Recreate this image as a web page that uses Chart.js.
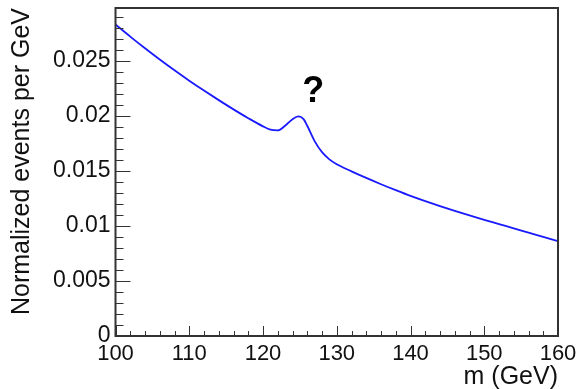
<!DOCTYPE html>
<html>
<head>
<meta charset="utf-8">
<script src="https://cdn.jsdelivr.net/npm/chart.js@4"></script>
<style>
html,body{margin:0;padding:0;background:#fff;}
#wrap{width:578px;height:389px;}
</style>
</head>
<body>
<div id="wrap"><canvas id="c" width="578" height="389"></canvas></div>
<script>
// Data
const masses = [100,102,104,106,108,110,112,114,116,118,120,121,122,123,124,124.8,125.5,126,127,128,129,130,132,134,136,138,140,142,144,146,148,150,152,154,156,158,160];
const events = [0.0283,0.0272,0.02614,0.02512,0.02414,0.0232,0.0223,0.02143,0.02059,0.01979,0.01905,0.01875,0.01868,0.0191,0.0197,0.01995,0.0197,0.0191,0.0177,0.0167,0.01605,0.0156,0.01496,0.01436,0.01379,0.01325,0.01273,0.01225,0.0118,0.01137,0.01096,0.01056,0.01017,0.00978,0.00939,0.009,0.00861];
const xTicks = [100,110,120,130,140,150,160];
const yTicks = [0,0.005,0.01,0.015,0.02,0.025];
const annotationText = '?';
const annotationPos = {x:126.8, y:0.02126};

const FONT = "'Liberation Sans', Arial, Helvetica, sans-serif";

const framePlugin = {
  id:'frame',
  afterDatasetsDraw(chart){
    const {ctx, chartArea:a, scales:{x,y}} = chart;
    ctx.save();
    ctx.strokeStyle = '#333';
    ctx.lineWidth = 1;
    ctx.beginPath();
    for(let v=100; v<=160.001; v+=2){
      const px = Math.round(x.getPixelForValue(v))+0.5;
      const len = (Math.abs(v%10)<1e-6) ? 10 : 5;
      ctx.moveTo(px, a.bottom); ctx.lineTo(px, a.bottom-len);
    }
    for(let i=0; i<=29; i++){
      const v = i*0.001;
      const py = Math.round(y.getPixelForValue(v))+0.5;
      const len = (i%5===0) ? 15 : 8;
      ctx.moveTo(a.left, py); ctx.lineTo(a.left+len, py);
    }
    ctx.stroke();
    ctx.lineWidth = 2;
    ctx.strokeStyle = '#333';
    ctx.strokeRect(a.left, a.top, a.right-a.left, a.bottom-a.top);
    ctx.fillStyle = '#000';
    ctx.font = "bold 36px " + FONT;
    ctx.textAlign = 'center';
    ctx.textBaseline = 'alphabetic';
    ctx.fillText(annotationText, x.getPixelForValue(annotationPos.x), y.getPixelForValue(annotationPos.y));
    ctx.restore();
  }
};

new Chart(document.getElementById('c'), {
  type:'line',
  data:{
    datasets:[{
      data: masses.map((m,i)=>({x:m, y:events[i]})),
      borderColor:'#1a1aff',
      borderWidth:1.8,
      pointRadius:0,
      fill:false,
      cubicInterpolationMode:'monotone'
    }]
  },
  options:{
    responsive:false,
    animation:false,
    devicePixelRatio:1,
    layout:{padding:{top:8,right:20,bottom:0,left:0}},
    plugins:{legend:{display:false},tooltip:{enabled:false}},
    scales:{
      x:{
        type:'linear', min:100, max:160,
        afterFit(s){ s.height = 53; s.paddingLeft = 0; s.paddingRight = 0; },
        afterBuildTicks(s){ s.ticks = xTicks.map(v=>({value:v})); },
        grid:{display:false, drawTicks:false},
        border:{display:false},
        ticks:{color:'#111', font:{family:FONT, size:22}, padding:5, maxRotation:0, autoSkip:false},
        title:{display:true, text:'m (GeV)', align:'end', color:'#111', font:{family:FONT, size:25}, padding:{top:0,bottom:-3}}
      },
      y:{
        type:'linear', min:0, max:0.0298,
        afterFit(s){ s.width = 115.5; s.paddingTop = 0; s.paddingBottom = 0; },
        afterBuildTicks(s){ s.ticks = yTicks.map(v=>({value:v})); },
        grid:{display:false, drawTicks:false},
        border:{display:false},
        ticks:{color:'#111', font:{family:FONT, size:23}, padding:5,
          callback:(v)=>String(Number(v.toFixed(3)))},
        title:{display:true, text:'Normalized events per GeV', align:'end', color:'#111', font:{family:FONT, size:25}, padding:{top:7,bottom:0}}
      }
    }
  },
  plugins:[framePlugin]
});
</script>
</body>
</html>
